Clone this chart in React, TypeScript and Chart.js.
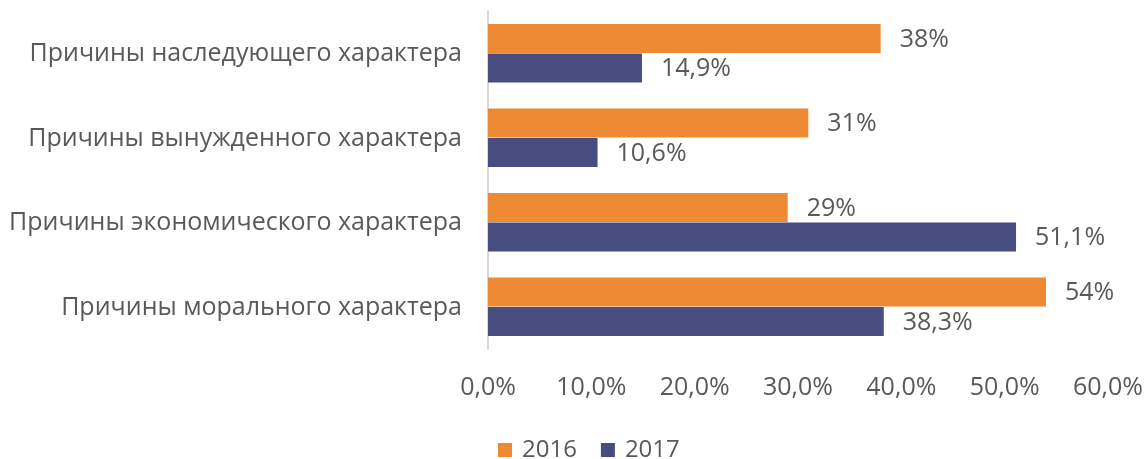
import React, { useEffect, useRef } from "react";
import { Chart, registerables } from "chart.js";

Chart.register(...registerables);

const categories = [
  "Причины наследующего характера",
  "Причины вынужденного характера",
  "Причины экономического характера",
  "Причины морального характера",
];
const values2016 = [38, 31, 29, 54];
const values2017 = [14.9, 10.6, 51.1, 38.3];
const seriesNames = ["2016", "2017"];
const xTicks = [0, 10, 20, 30, 40, 50, 60];

const ORANGE = "#EE8A33";
const NAVY = "#474D7F";
const TEXT = "#595959";
const FONT = "'Open Sans', sans-serif";

const fmtPct = (v: number) => String(v).replace(".", ",") + "%";

const valueLabels = {
  id: "valueLabels",
  afterDatasetsDraw(chart: any) {
    const ctx = chart.ctx;
    ctx.save();
    ctx.font = `25px ${FONT}`;
    ctx.fillStyle = TEXT;
    ctx.textAlign = "left";
    ctx.textBaseline = "middle";
    chart.data.datasets.forEach((ds: any, i: number) => {
      const meta = chart.getDatasetMeta(i);
      meta.data.forEach((bar: any, j: number) => {
        ctx.fillText(fmtPct(ds.data[j]), bar.x + 19, bar.y + 1);
      });
    });
    ctx.restore();
  },
};

const customLegend = {
  id: "customLegend",
  afterDraw(chart: any) {
    const ctx = chart.ctx;
    ctx.save();
    ctx.font = `24px ${FONT}`;
    ctx.textBaseline = "middle";
    ctx.textAlign = "left";
    let x = 498;
    const y = 450;
    chart.data.datasets.forEach((ds: any) => {
      ctx.fillStyle = ds.backgroundColor;
      ctx.fillRect(x, y - 7, 14, 14);
      x += 24;
      ctx.fillStyle = TEXT;
      ctx.fillText(ds.label, x, y);
      x += ctx.measureText(ds.label).width + 24;
    });
    ctx.restore();
  },
};

export default function App() {
  const ref = useRef<HTMLCanvasElement>(null);
  useEffect(() => {
    document.body.style.margin = "0";
    const chart = new Chart(ref.current!, {
      type: "bar",
      data: {
        labels: categories,
        datasets: [
          {
            label: seriesNames[0],
            data: values2016,
            backgroundColor: ORANGE,
            categoryPercentage: 0.7,
            barPercentage: 0.98,
          },
          {
            label: seriesNames[1],
            data: values2017,
            backgroundColor: NAVY,
            categoryPercentage: 0.7,
            barPercentage: 0.98,
          },
        ],
      },
      options: {
        indexAxis: "y",
        responsive: false,
        animation: false,
        layout: { padding: { top: 11, right: 38, left: 0, bottom: 0 } },
        plugins: {
          legend: { display: false },
          tooltip: { enabled: false },
        },
        scales: {
          x: {
            min: 0,
            max: 60,
            afterBuildTicks: (scale: any) => {
              scale.ticks = xTicks.map((v) => ({ value: v }));
            },
            afterFit: (scale: any) => {
              scale.height = 110;
              scale.paddingLeft = 0;
              scale.paddingRight = 0;
              scale.paddingTop = 0;
              scale.paddingBottom = 0;
            },
            grid: { display: false, drawTicks: false },
            border: { display: false },
            ticks: {
              color: TEXT,
              font: { family: FONT, size: 25 },
              padding: 24,
              maxRotation: 0,
              callback: (v: any) => Number(v).toFixed(1).replace(".", ",") + "%",
            },
          },
          y: {
            afterFit: (scale: any) => {
              scale.width = 488;
              scale.paddingLeft = 0;
              scale.paddingRight = 0;
              scale.paddingTop = 0;
              scale.paddingBottom = 0;
            },
            grid: { display: false, drawTicks: false },
            border: { display: true, color: "#D9D9D9", width: 2 },
            ticks: {
              color: TEXT,
              font: { family: FONT, size: 25 },
              padding: 26,
              labelOffset: 1,
            },
          },
        },
      },
      plugins: [valueLabels, customLegend],
    });
    return () => chart.destroy();
  }, []);
  return <canvas ref={ref} width={1146} height={459} style={{ display: "block" }} />;
}
